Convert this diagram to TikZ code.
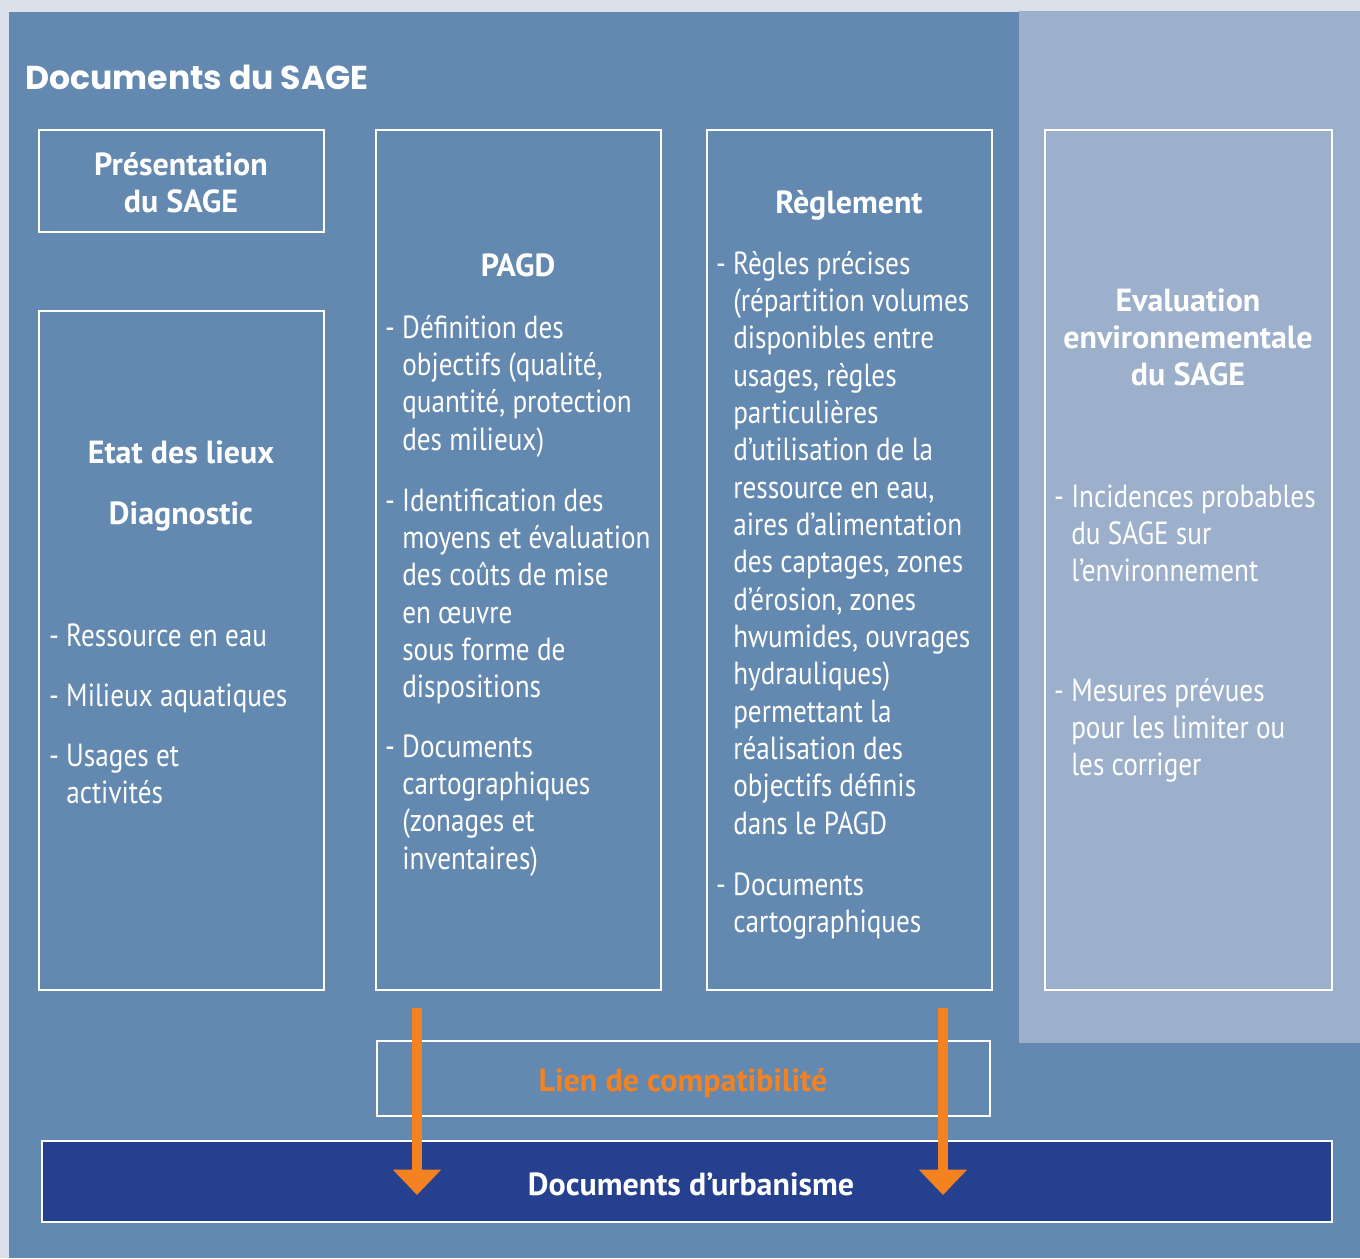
\documentclass[tikz,border=0pt]{standalone}
\usepackage{fontspec}
\setmainfont{PT Sans}[FakeStretch=0.85]
\newfontfamily\headfont{PT Sans}
\newfontfamily\titlefont{Poppins}
\usetikzlibrary{arrows.meta,fit}
\definecolor{pagebg}{HTML}{DCE0EA}
\definecolor{mainblue}{HTML}{6389B0}
\definecolor{lightpanel}{HTML}{9CB0CB}
\definecolor{darkblue}{HTML}{25408E}
\definecolor{arrorange}{HTML}{F58220}
\newcommand{\cen}[1]{\vtop{\baselineskip=28pt\lineskiplimit=-20pt\halign{\hfil##\hfil\cr#1\crcr}}}
\newcommand{\lft}[1]{\vtop{\baselineskip=28pt\lineskiplimit=-20pt\halign{##\hfil\cr#1\crcr}}}
\newcommand{\dsh}{\llap{-\space}}
\tikzset{
  frame/.style={draw=white, line width=1.8pt, inner sep=0pt},
  body/.style={inner sep=0pt, text=white, font=\fontsize{24}{28}\selectfont},
  head/.style={inner sep=0pt, text=white, font=\headfont\bfseries\fontsize{24}{28}\selectfont},
  arr/.style={draw=arrorange, line width=7.5pt,
    -{Triangle[width=35pt,length=19pt]}, arrorange}
}
\begin{document}
\begin{tikzpicture}[x=0.75pt,y=-0.75pt]
\useasboundingbox (0,0) rectangle (1360,1258);
\fill[pagebg] (0,0) rectangle (1360,1258);
\fill[mainblue] (9,12) rectangle (1360,1258);
\fill[lightpanel] (1019,11) rectangle (1360,1043);

\node[inner sep=0pt, anchor=base west, text=white,
  font=\titlefont\bfseries\fontsize{24.8}{28}\selectfont] (title) at (25,89) {Documents du SAGE};

% boxes
\node[frame, fit={(39,130)(324,232)}] (pres) {};
\node[frame, fit={(39,311)(324,990)}] (etat) {};
\node[frame, fit={(376,130)(661,990)}] (pagd) {};
\node[frame, fit={(707,130)(992,990)}] (regl) {};
\node[frame, fit={(1045,130)(1332,990)}] (eval) {};
\node[frame, fit={(377,1041)(990,1116)}] (lien) {};
\node[frame, fill=darkblue, fit={(42,1141)(1332,1222)}] (urba) {};

% box 1
\node[head, anchor=base] (presT) at (181,175) {\cen{Présentation\cr du SAGE}};
% box 2
\node[head, anchor=base] (etatT) at (181,463) {Etat des lieux};
\node[head, anchor=base] (diagT) at (181,524) {Diagnostic};
\node[body, anchor=base west] (e1) at (66,646) {\lft{\dsh Ressource en eau}};
\node[body, anchor=base west] (e2) at (66,706) {\lft{\dsh Milieux aquatiques}};
\node[body, anchor=base west] (e3) at (66,766) {\lft{\dsh Usages et\cr activités}};
% box 3
\node[head, anchor=base] (pagdT) at (518,276) {PAGD};
\node[body, anchor=base west] (p1) at (402,338) {\lft{\dsh Définition des\cr objectifs (qualité,\cr quantité, protection\cr des milieux)}};
\node[body, anchor=base west] (p2) at (402,511) {\lft{\dsh Identification des\cr moyens et évaluation\cr des coûts de mise\cr en œuvre\cr sous forme de\cr dispositions}};
\node[body, anchor=base west] (p3) at (402,757) {\lft{\dsh Documents\cr cartographiques\cr (zonages et\cr inventaires)}};
% box 4
\node[head, anchor=base] (reglT) at (849,213) {Règlement};
\node[body, anchor=base west] (r1) at (733,274) {\lft{\dsh Règles précises\cr (répartition volumes\cr disponibles entre\cr usages, règles\cr particulières\cr d’utilisation de la\cr ressource en eau,\cr aires d’alimentation\cr des captages, zones\cr d’érosion, zones\cr hwumides, ouvrages\cr hydrauliques)\cr permettant la\cr réalisation des\cr objectifs définis\cr dans le PAGD}};
\node[body, anchor=base west] (r2) at (733,895) {\lft{\dsh Documents\cr cartographiques}};
% box 5
\node[head, anchor=base] (evalT) at (1188,311) {\cen{Evaluation\cr environnementale\cr du SAGE}};
\node[body, anchor=base west] (v1) at (1071,507) {\lft{\dsh Incidences probables\cr du SAGE sur\cr l’environnement}};
\node[body, anchor=base west] (v2) at (1071,701) {\lft{\dsh Mesures prévues\cr pour les limiter ou\cr les corriger}};

% bottom
\node[inner sep=0pt, anchor=base, text=arrorange, font=\headfont\bfseries\fontsize{24}{28}\selectfont] (lienT) at (683,1091) {Lien de compatibilité};
\node[inner sep=0pt, anchor=base, text=white, font=\headfont\bfseries\fontsize{24}{28}\selectfont] (urbaT) at (691,1195) {Documents d’urbanisme};

% arrows
\coordinate (a1s) at (417,1008);
\coordinate (a1e) at (417,1195);
\coordinate (a2s) at (943,1008);
\coordinate (a2e) at (943,1195);
\draw[arr] (a1s) -- (a1e);
\draw[arr] (a2s) -- (a2e);
\end{tikzpicture}
\end{document}
